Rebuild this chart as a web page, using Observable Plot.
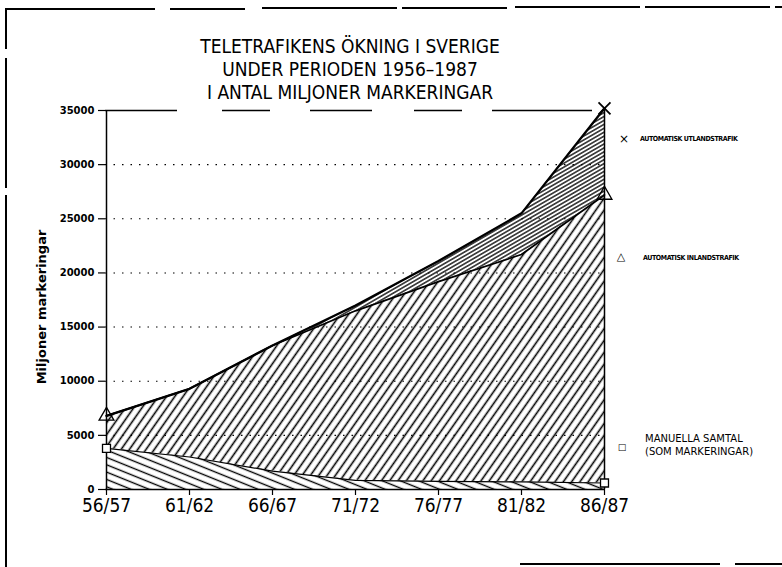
<!DOCTYPE html>
<html>
<head>
<meta charset="utf-8">
<script src="https://cdn.jsdelivr.net/npm/d3@7"></script>
<script src="https://cdn.jsdelivr.net/npm/@observablehq/plot@0.6"></script>
<style>
  html, body { margin: 0; padding: 0; background: #fff; }
  #wrap { position: relative; width: 782px; height: 567px; overflow: hidden; background: #fff; color: #000; }
  #chart { position: absolute; left: 0; top: 0; }
  .fr { position: absolute; background: #000; }
  #title { position: absolute; left: 150px; top: 35px; width: 400px; text-align: center;
           font-family: "DejaVu Sans Condensed", "DejaVu Sans", sans-serif; font-size: 19px; line-height: 23px; }
  #ylabel { position: absolute; left: 41px; top: 307px; transform: translate(-50%, -50%) rotate(-90deg);
            white-space: nowrap; font-family: "DejaVu Sans", sans-serif; font-weight: bold; font-size: 13px; }
  .lg { position: absolute; white-space: nowrap; font-family: "DejaVu Sans Condensed", "DejaVu Sans", sans-serif; }
  .lgs { font-weight: bold; font-size: 7px; line-height: 8px; letter-spacing: -0.4px; }
  .lgm { font-family: "DejaVu Sans", sans-serif; font-size: 10px; line-height: 12.5px; }
  .sym { position: absolute; font-family: "DejaVu Sans", sans-serif; transform: translate(-50%, -50%); line-height: 1; }
</style>
</head>
<body>
<div id="wrap">
  <!-- scanned frame -->
  <div class="fr" style="left:5px; top:8px; width:150px; height:1.5px"></div>
  <div class="fr" style="left:170px; top:8px; width:75px; height:1.5px"></div>
  <div class="fr" style="left:262px; top:7px; width:135px; height:1.5px"></div>
  <div class="fr" style="left:402px; top:7px; width:105px; height:1.5px"></div>
  <div class="fr" style="left:515px; top:6px; width:125px; height:1.5px"></div>
  <div class="fr" style="left:645px; top:6px; width:125px; height:1.5px"></div>
  <div class="fr" style="left:775px; top:6px; width:7px; height:1.5px"></div>
  <div class="fr" style="left:5px; top:9px; width:1.5px; height:40px"></div>
  <div class="fr" style="left:5px; top:58px; width:1.5px; height:130px"></div>
  <div class="fr" style="left:5px; top:195px; width:1.5px; height:372px"></div>
  <div class="fr" style="left:520px; top:563px; width:200px; height:1.5px"></div>
  <div class="fr" style="left:735px; top:563px; width:47px; height:1.5px"></div>

  <div id="chart"></div>

  <div id="title">TELETRAFIKENS ÖKNING I SVERIGE<br>UNDER PERIODEN 1956–1987<br>I ANTAL MILJONER MARKERINGAR</div>
  <div id="ylabel">Miljoner markeringar</div>

  <div class="sym" style="left:624px; top:139px; font-size:12px">×</div>
  <div class="lg lgs" style="left:640px; top:135px">AUTOMATISK UTLANDSTRAFIK</div>
  <div class="sym" style="left:621px; top:256px; font-size:11px">△</div>
  <div class="lg lgs" style="left:643px; top:254px">AUTOMATISK INLANDSTRAFIK</div>
  <div class="sym" style="left:622px; top:447px; font-size:9px">□</div>
  <div class="lg lgm" style="left:645px; top:433px">MANUELLA SAMTAL<br>(SOM MARKERINGAR)</div>
</div>

<script>
// ---- data (millions of markings) ----
const periods  = ["56/57", "61/62", "66/67", "71/72", "76/77", "81/82", "86/87"];
const manuella = [3800, 3000, 1700, 850, 750, 700, 600];           // manual calls
const inland   = [3000, 6300, 11600, 15650, 18450, 21000, 26600];  // automatic domestic
const utland   = [0, 0, 0, 500, 1900, 3800, 8000];                 // automatic international
const yTicks   = [0, 5000, 10000, 15000, 20000, 25000, 30000, 35000];

// stacked table built from the arrays
const rows = periods.map((p, i) => ({
  period: p,
  m: manuella[i],
  mi: manuella[i] + inland[i],
  t: manuella[i] + inland[i] + utland[i]
}));
const ends = [rows[0], rows[rows.length - 1]];
const curve = "linear";

const chart = Plot.plot({
  width: 782,
  height: 567,
  marginTop: 110,
  marginBottom: 78,
  marginLeft: 105,
  marginRight: 177,
  style: { background: "transparent", overflow: "visible" },
  x: { type: "point", domain: periods, padding: 0 },
  y: { domain: [0, 35000] },
  marks: [
    // dotted grid
    Plot.ruleY(yTicks.slice(1, -1), { stroke: "#000", strokeWidth: 1.1, strokeDasharray: "1.5,7" }),
    Plot.ruleY(yTicks.slice(-1), { stroke: "#000", strokeWidth: 1.4, strokeDasharray: "72,45,48,40,62,42,48,30,100" }),
    // hatched stacked areas
    Plot.areaY(rows, { x: "period", y1: () => 0, y2: "m", fill: "url(#hManual)", curve }),
    Plot.areaY(rows, { x: "period", y1: "m", y2: "mi", fill: "url(#hInland)", curve }),
    Plot.areaY(rows, { x: "period", y1: "mi", y2: "t", fill: "url(#hUtland)", curve }),
    // boundaries
    Plot.lineY(rows, { x: "period", y: "m", stroke: "#000", strokeWidth: 1.2, curve }),
    Plot.lineY(rows, { x: "period", y: "mi", stroke: "#000", strokeWidth: 1.7, curve }),
    Plot.lineY(rows, { x: "period", y: "t", stroke: "#000", strokeWidth: 2.3, curve }),
    Plot.ruleX(rows.slice(-1), { x: "period", y1: () => 0, y2: "t", stroke: "#000", strokeWidth: 1.5 }),
    Plot.ruleY([0], { stroke: "#000", strokeWidth: 1.3 }),
    Plot.ruleX(periods.slice(0, 1), { y1: () => yTicks[0], y2: () => yTicks[yTicks.length - 1], stroke: "#000", strokeWidth: 1.5 }),
    // markers
    Plot.dot(ends, { x: "period", y: "m", symbol: "square", r: 4.5, stroke: "#000", fill: "white", strokeWidth: 1.3 }),
    Plot.dot(ends, { x: "period", y: "mi", symbol: "triangle", r: 5.5, stroke: "#000", fill: "none", strokeWidth: 1.3 }),
    Plot.dot(rows.slice(-1), { x: "period", y: "t", symbol: "times", r: 5.5, stroke: "#000", strokeWidth: 1.8 }),
    // axes
    Plot.axisY(yTicks, { anchor: "left", tickSize: 7, tickPadding: 4, tickFormat: d => String(d),
      fontFamily: "DejaVu Sans", fontWeight: "bold", fontSize: 10, label: null, stroke: "#000", strokeWidth: 1.2 }),
    Plot.axisX(periods, { anchor: "bottom", tickSize: 6, tickPadding: 3,
      fontFamily: "DejaVu Sans Condensed", fontSize: 19, label: null, stroke: "#000", strokeWidth: 1.2 })
  ]
});

// hatch patterns
const defs = d3.select(chart).insert("defs", ":first-child");
function hatch(id, angle, spacing, width) {
  const p = defs.append("pattern")
    .attr("id", id)
    .attr("patternUnits", "userSpaceOnUse")
    .attr("width", spacing)
    .attr("height", 10)
    .attr("patternTransform", `rotate(${angle})`);
  p.append("line")
    .attr("x1", spacing / 2).attr("x2", spacing / 2)
    .attr("y1", 0).attr("y2", 10)
    .attr("stroke", "#000").attr("stroke-width", width);
}
hatch("hManual", -68, 6.8, 1.4);
hatch("hInland", 35, 6.8, 1.6);
hatch("hUtland", 60, 3.4, 1.3);

document.getElementById("chart").appendChild(chart);
</script>
</body>
</html>
